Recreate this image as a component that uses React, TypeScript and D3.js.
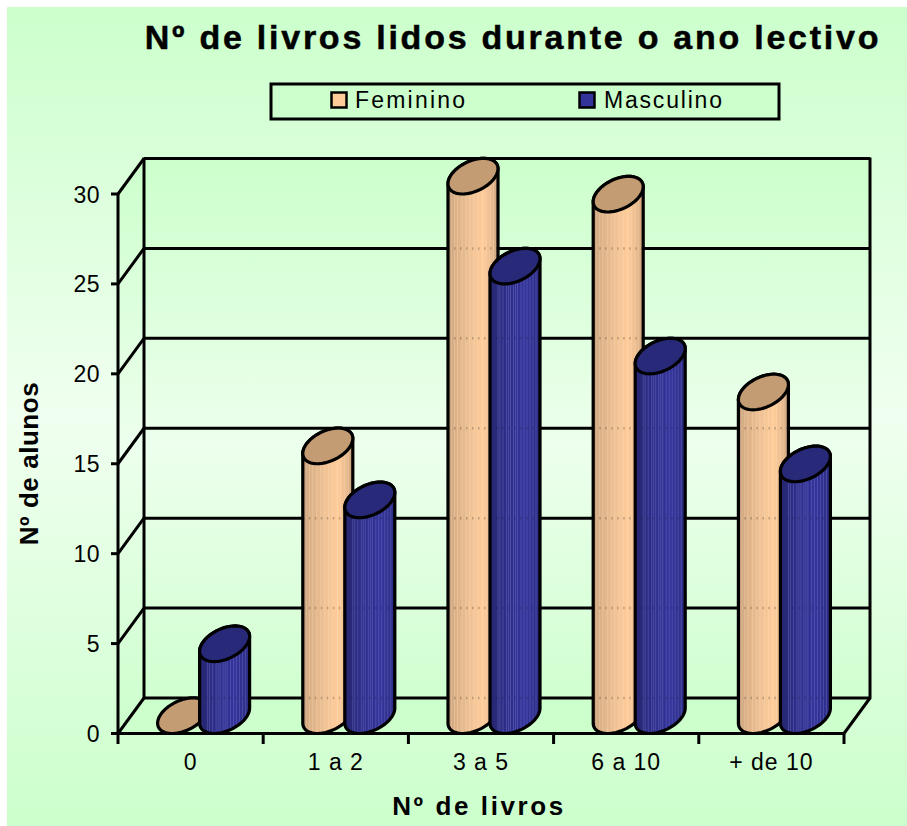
import React from "react";
import * as d3 from "d3";

const categories = ["0", "1 a 2", "3 a 5", "6 a 10", "+ de 10"];
const feminino = [0, 15, 30, 29, 18];
const masculino = [4, 12, 25, 20, 14];
const yTicks = [0, 5, 10, 15, 20, 25, 30];
const femStripes = [0.07, 0.13, 0.19, 0.28, 0.36, 0.43, 0.52, 0.6, 0.69, 0.76, 0.84, 0.91];
const masStripes = [0.16, 0.2, 0.26, 0.33, 0.37, 0.41, 0.47, 0.51, 0.55, 0.62, 0.68, 0.74, 0.8, 0.86, 0.92];

const W = 907, H = 826;
const DX = 26, DY = 35.5;
const x = d3.scaleBand<string>().domain(categories).range([118, 844]);
const y = d3.scaleLinear().domain([0, 30]).range([733.5, 194]);
const barHalf = 21;
const a = 22.7, ex = 10.5, ey = 17.8;
const T0 = Math.atan2(ex, a);
const line = d3.line<[number, number]>().curve(d3.curveLinear);

function pt(cx: number, cy: number, t: number): [number, number] {
  return [cx + a * Math.cos(t) + ex * Math.sin(t), cy - ey * Math.sin(t)];
}
function ellipse(cx: number, cy: number) {
  return line(d3.range(0, 73).map((i) => pt(cx, cy, (i / 72) * 2 * Math.PI))) + "Z";
}
function side(cx: number, top: number, bot: number) {
  const upper = d3.range(0, 37).map((i) => pt(cx, top, T0 + (i / 36) * Math.PI));
  const lower = d3.range(0, 37).map((i) => pt(cx, bot, T0 + Math.PI + (i / 36) * Math.PI));
  return line([...upper, ...lower]) + "Z";
}

function Cyl({ cx, v, id, fill, top, stripes, stripeCol, stripeOp, gridOp }: any) {
  const botC = y(0) - ey;
  const topC = y(v) - ey;
  const left = cx - 25, w = 50;
  if (v === 0) return <path d={ellipse(cx, botC)} fill={top} stroke="#000" strokeWidth={3.2} />;
  const grid = yTicks.filter((t) => t < v + 0.01).map((t) => y(t) - DY).filter((g) => g > topC + 10);
  return (
    <g>
      <clipPath id={id}><path d={side(cx, topC, botC)} /></clipPath>
      <path d={side(cx, topC, botC)} fill={`url(#grad-${fill})`} />
      <g clipPath={`url(#${id})`}>
        {stripes.map((s: number) => (
          <line key={s} x1={left + s * w} x2={left + s * w} y1={topC - 30} y2={botC + 30} stroke={stripeCol} strokeOpacity={stripeOp} strokeWidth={1} />
        ))}
        {grid.map((g: number) => (
          <line key={g} x1={left} x2={left + w} y1={g} y2={g} stroke="#000" strokeOpacity={gridOp} strokeWidth={2.5} strokeDasharray="1.5 4.5" />
        ))}
      </g>
      <path d={side(cx, topC, botC)} fill="none" stroke="#000" strokeWidth={3.2} strokeLinejoin="round" />
      <path d={ellipse(cx, topC)} fill={top} stroke="#000" strokeWidth={3.2} />
    </g>
  );
}

export default function App() {
  const band = x.bandwidth();
  const sw = 3;
  const top = y(30) - DY, bottom = y(0) - DY;
  return (
    <svg width={W} height={H} style={{ position: "absolute", left: 0, top: 0, display: "block" }} fontFamily="'Liberation Sans', Arial, sans-serif">
      <defs>
        <linearGradient id="pageBg" x1="0" y1="0" x2="0" y2="1">
          <stop offset="0" stopColor="#ccffcc" />
          <stop offset="0.5" stopColor="#f0fff0" />
          <stop offset="1" stopColor="#ccffcc" />
        </linearGradient>
        <linearGradient id="wallBg" gradientUnits="userSpaceOnUse" x1="0" y1="158" x2="0" y2="733">
          <stop offset="0" stopColor="#ccffcc" />
          <stop offset="0.5" stopColor="#edffed" />
          <stop offset="1" stopColor="#ccffcc" />
        </linearGradient>
        <linearGradient id="grad-fem" x1="0" y1="0" x2="1" y2="0">
          <stop offset="0" stopColor="#bf9a78" />
          <stop offset="0.12" stopColor="#d9ae84" />
          <stop offset="0.45" stopColor="#f0c294" />
          <stop offset="0.7" stopColor="#ffcc99" />
          <stop offset="0.88" stopColor="#e8ba8e" />
          <stop offset="1" stopColor="#c8a07a" />
        </linearGradient>
        <linearGradient id="grad-mas" x1="0" y1="0" x2="1" y2="0">
          <stop offset="0" stopColor="#26266f" />
          <stop offset="0.3" stopColor="#2d2d88" />
          <stop offset="0.7" stopColor="#333399" />
          <stop offset="1" stopColor="#2c2c84" />
        </linearGradient>
      </defs>
      <rect x={7} y={7} width={W - 7} height={H - 7} fill="url(#pageBg)" />

      <rect x={144} y={top} width={726} height={bottom - top} fill="url(#wallBg)" />
      <path d={`M118,${y(30)} L144,${top} L144,${bottom} L118,${y(0)}Z`} fill="url(#wallBg)" />
      <path d={`M118,${y(0)} L144,${bottom} L870,${bottom} L844,${y(0)}Z`} fill="#ccffcc" />

      {yTicks.map((t) => (
        <g key={t} stroke="#000" strokeWidth={sw} fill="none">
          <line x1={118} y1={y(t)} x2={144} y2={y(t) - DY} />
          <line x1={144} y1={y(t) - DY} x2={870} y2={y(t) - DY} />
          <line x1={111} y1={y(t)} x2={118} y2={y(t)} />
        </g>
      ))}
      <g stroke="#000" strokeWidth={sw} fill="none">
        <line x1={144} y1={top - 1} x2={144} y2={bottom + 1} />
        <line x1={870} y1={top - 1} x2={870} y2={bottom + 1} />
        <line x1={844} y1={y(0)} x2={870} y2={bottom} />
        <line x1={118} y1={y(30) - 1} x2={118} y2={y(0) + 1} />
      </g>

      {categories.map((c, i) => {
        const center = (x(c) as number) + band / 2 + DX / 2;
        return (
          <g key={c}>
            <Cyl cx={center - barHalf} v={feminino[i]} id={`f${i}`} fill="fem" top="#c49c74" stripes={femStripes} stripeCol="#ffe8d0" stripeOp={0.28} gridOp={0.22} />
            <Cyl cx={center + barHalf} v={masculino[i]} id={`m${i}`} fill="mas" top="#29297a" stripes={masStripes} stripeCol="#a0a0f0" stripeOp={0.27} gridOp={0.15} />
          </g>
        );
      })}

      <line x1={111} y1={y(0)} x2={844} y2={y(0)} stroke="#000" strokeWidth={3.2} />
      {[...categories.map((c) => x(c) as number), 844].map((p) => (
        <line key={p} x1={p} x2={p} y1={y(0)} y2={744} stroke="#000" strokeWidth={3} />
      ))}

      {yTicks.map((t) => (
        <text key={t} x={100} y={y(t) + 8.5} textAnchor="end" fontSize={23} letterSpacing={0.5} fill="#000">{t}</text>
      ))}
      {categories.map((c) => (
        <text key={c} x={(x(c) as number) + band / 2} y={770} textAnchor="middle" fontSize={23} letterSpacing={1} fill="#000">{c}</text>
      ))}

      <text x={513} y={49} textAnchor="middle" fontSize={34} fontWeight="bold" letterSpacing={2.75} fill="#000" stroke="#000" strokeWidth={0.5}>Nº de livros lidos durante o ano lectivo</text>
      <text x={479} y={815} textAnchor="middle" fontSize={26} fontWeight="bold" letterSpacing={2.6} fill="#000">Nº de livros</text>
      <text transform="translate(38,463.5) rotate(-90)" textAnchor="middle" fontSize={26} fontWeight="bold" letterSpacing={0.55} fill="#000">Nº de alunos</text>

      <rect x={271} y={84} width={508} height={35} fill="#ccffcc" stroke="#000" strokeWidth={3} />
      <rect x={331.5} y={92.5} width={15} height={15} fill="#ffcc99" stroke="#000" strokeWidth={2.5} />
      <text x={355} y={108} fontSize={23} letterSpacing={2.2} fill="#000">Feminino</text>
      <rect x={579.5} y={92.5} width={15} height={15} fill="#333399" stroke="#000" strokeWidth={2.5} />
      <text x={604} y={108} fontSize={23} letterSpacing={1.8} fill="#000">Masculino</text>
    </svg>
  );
}
